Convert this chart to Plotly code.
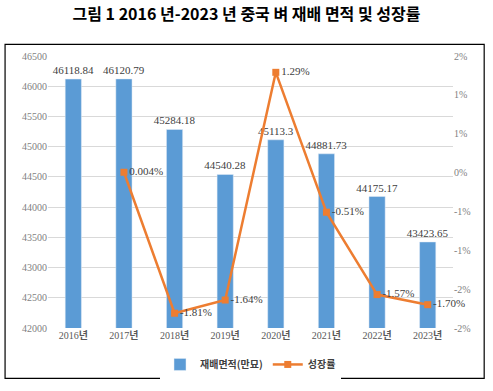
import plotly.graph_objects as go

years = ["2016", "2017", "2018", "2019", "2020", "2021", "2022", "2023"]
area = [46118.84, 46120.79, 45284.18, 44540.28, 45113.3, 44881.73, 44175.17, 43423.65]
area_labels = ["46118.84", "46120.79", "45284.18", "44540.28", "45113.3", "44881.73", "44175.17", "43423.65"]
growth = [None, 0.004, -1.81, -1.64, 1.29, -0.51, -1.57, -1.70]
growth_labels = ["", "0.004%", "-1.81%", "-1.64%", "1.29%", "-0.51%", "-1.57%", "-1.70%"]
left_ticks = [42000, 42500, 43000, 43500, 44000, 44500, 45000, 45500, 46000, 46500]
right_ticks = [-2.0, -1.5, -1.0, -0.5, 0.0, 0.5, 1.0, 1.5]
right_ticktext = ["-2%", "-2%", "-1%", "-1%", "0%", "1%", "1%", "2%"]

cats = [f"{y}<b>년</b>" for y in years]

tickfont = dict(family="Liberation Serif, serif", size=10, color="#7F7F7F")
labelfont = dict(family="Liberation Serif, serif", size=11, color="#404040")

fig = go.Figure()
fig.add_trace(go.Bar(
    x=cats, y=area, name="<b>재배면적(만묘)</b>",
    marker_color="#5B9BD5", width=0.32,
    text=area_labels, textposition="outside", textfont=labelfont,
    constraintext="none", cliponaxis=False,
))
fig.add_trace(go.Scatter(
    x=cats, y=growth, name="<b>성장률</b>", yaxis="y2",
    mode="lines+markers+text",
    line=dict(color="#ED7D31", width=2.5),
    marker=dict(symbol="square", size=7, color="#ED7D31"),
    text=growth_labels, textposition="middle right", textfont=labelfont,
    cliponaxis=False,
))

fig.update_layout(
    width=493, height=391,
    margin=dict(l=48, r=40, t=56, b=59),
    paper_bgcolor="white", plot_bgcolor="white",
    title=dict(text="<b>그림 1 2016 년-2023 년 중국 벼 재배 면적 및 성장률</b>",
               x=0.5, xanchor="center", y=0.962, yanchor="middle",
               font=dict(family="Noto Sans CJK KR", size=16, color="black")),
    xaxis=dict(tickfont=dict(family="Liberation Serif, Noto Sans CJK KR", size=10, color="#595959"),
               showline=False, ticks=""),
    yaxis=dict(range=[42000, 46500], tickvals=left_ticks, tickformat="d", showgrid=True,
               gridcolor="#D9D9D9", gridwidth=1, zeroline=False,
               tickfont=tickfont, ticks=""),
    yaxis2=dict(range=[-2.0, 1.5], overlaying="y", side="right",
                tickvals=right_ticks, ticktext=right_ticktext,
                showgrid=False, zeroline=False, tickfont=tickfont, ticks=""),
    legend=dict(orientation="h", x=0.5, xanchor="center", y=-0.134, yanchor="middle",
                font=dict(family="Noto Sans CJK KR", size=10, color="#404040"),
                tracegroupgap=0, itemwidth=30),
    showlegend=True,
    shapes=[dict(type="rect", xref="paper", yref="paper",
                 x0=-0.106, x1=1.077, y0=-0.185, y1=1.043,
                 line=dict(color="black", width=1.2), fillcolor="rgba(0,0,0,0)")],
)

fig.write_html("out.html", config={"displayModeBar": False},
               post_script="document.body.style.margin='0';document.body.style.overflow='hidden';")
